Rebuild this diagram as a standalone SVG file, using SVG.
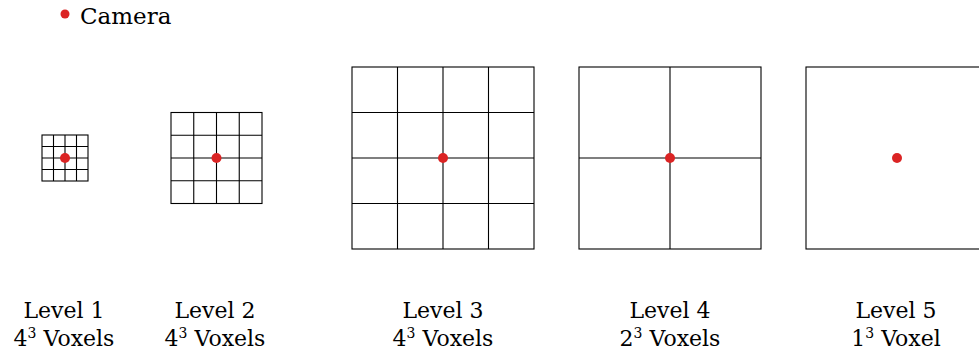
<svg xmlns="http://www.w3.org/2000/svg" width="979" height="358" viewBox="0 0 979 358">
<style>
.grid{fill:none;stroke:#000;stroke-width:1.1}
.cam{fill:#db2424}
.lbl{font-family:"DejaVu Serif","Liberation Serif",serif;font-size:22px;fill:#000;text-anchor:middle}
.sup{font-size:14px}
</style>
<rect width="979" height="358" fill="#fff"/>
<g id="legend">
<circle class="cam" cx="65" cy="14" r="4.5"/>
<text x="80" y="24" style="font-family:'DejaVu Serif','Liberation Serif',serif;font-size:23px">Camera</text>
</g>
<g id="level1">
<rect class="grid" x="42" y="135" width="46" height="46"/>
<path class="grid" d="M53.5 135V181M65 135V181M76.5 135V181M42 146.5H88M42 158H88M42 169.5H88"/>
<circle class="cam" cx="65" cy="158" r="5"/>
<text class="lbl" x="64" y="318">Level 1</text>
<text class="lbl" x="64" y="346">4<tspan class="sup" dy="-8">3</tspan><tspan dy="8"> Voxels</tspan></text>
</g>
<g id="level2">
<rect class="grid" x="171" y="112.5" width="91" height="91"/>
<path class="grid" d="M193.75 112.5V203.5M216.5 112.5V203.5M239.25 112.5V203.5M171 135.25H262M171 158H262M171 180.75H262"/>
<circle class="cam" cx="216.5" cy="158" r="5"/>
<text class="lbl" x="215" y="318">Level 2</text>
<text class="lbl" x="215" y="346">4<tspan class="sup" dy="-8">3</tspan><tspan dy="8"> Voxels</tspan></text>
</g>
<g id="level3">
<rect class="grid" x="352" y="67" width="182" height="182"/>
<path class="grid" d="M397.5 67V249M443 67V249M488.5 67V249M352 112.5H534M352 158H534M352 203.5H534"/>
<circle class="cam" cx="443" cy="158" r="5"/>
<text class="lbl" x="443" y="318">Level 3</text>
<text class="lbl" x="443" y="346">4<tspan class="sup" dy="-8">3</tspan><tspan dy="8"> Voxels</tspan></text>
</g>
<g id="level4">
<rect class="grid" x="579" y="67" width="182" height="182"/>
<path class="grid" d="M670 67V249M579 158H761"/>
<circle class="cam" cx="670" cy="158" r="5"/>
<text class="lbl" x="670" y="318">Level 4</text>
<text class="lbl" x="670" y="346">2<tspan class="sup" dy="-8">3</tspan><tspan dy="8"> Voxels</tspan></text>
</g>
<g id="level5">
<rect class="grid" x="806" y="67" width="182" height="182"/>
<circle class="cam" cx="897" cy="158" r="5"/>
<text class="lbl" x="896" y="318">Level 5</text>
<text class="lbl" x="896" y="346">1<tspan class="sup" dy="-8">3</tspan><tspan dy="8"> Voxel</tspan></text>
</g>
</svg>
